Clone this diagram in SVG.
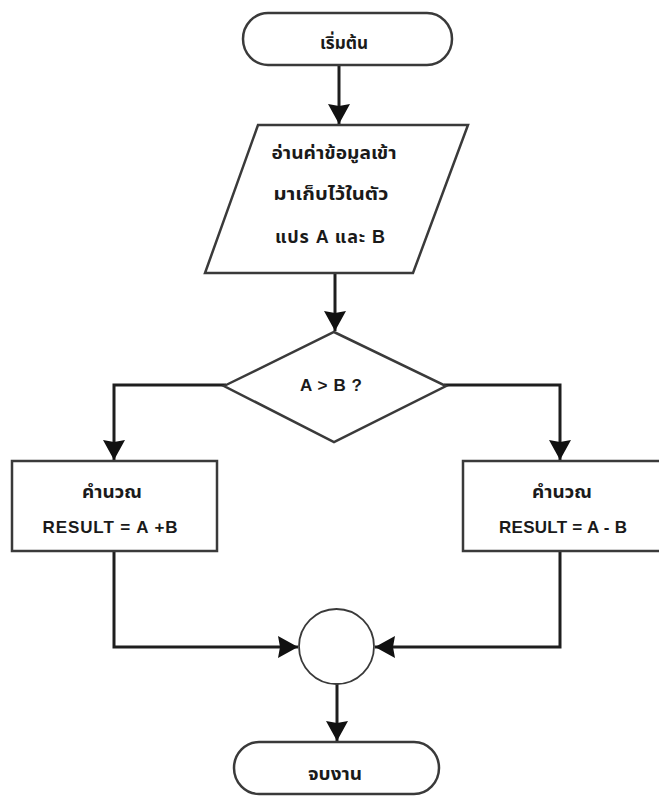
<svg xmlns="http://www.w3.org/2000/svg" width="659" height="796" viewBox="0 0 659 796">
  <style>
    .shape { fill: #ffffff; stroke: #3a3a3a; stroke-width: 2.5; }
    .thin { fill: #ffffff; stroke: #3a3a3a; stroke-width: 1.8; }
    .wire { fill: none; stroke: #1e1e1e; stroke-width: 3; }
    .label { font-family: "Liberation Sans", "Noto Sans Thai", "Noto Sans", "DejaVu Sans", sans-serif; font-size: 17px; font-weight: bold; fill: #1a1a1a; text-anchor: middle; }
    .th { font-size: 18px; }
  </style>
  <defs>
    <marker id="arrow" markerUnits="userSpaceOnUse" markerWidth="22" markerHeight="22" viewBox="0 0 22 22" refX="20" refY="11" orient="auto">
      <polygon points="0,0 20,11 0,22 2,11" fill="#111111"/>
    </marker>
  </defs>

  <rect width="659" height="796" fill="#ffffff"/>

  <!-- connectors -->
  <g id="connectors">
    <path class="wire" d="M 339 65 V 124" marker-end="url(#arrow)"/>
    <path class="wire" d="M 335 273 V 331" marker-end="url(#arrow)"/>
    <path class="wire" d="M 226 385 H 114 V 460" marker-end="url(#arrow)"/>
    <path class="wire" d="M 444 385 H 560 V 460" marker-end="url(#arrow)"/>
    <path class="wire" d="M 114 551 V 647 H 298" marker-end="url(#arrow)"/>
    <path class="wire" d="M 560 551 V 647 H 375" marker-end="url(#arrow)"/>
    <path class="wire" d="M 337 684 V 741" marker-end="url(#arrow)"/>
  </g>

  <!-- start terminator -->
  <g id="start">
    <rect class="shape" x="243" y="13" width="209" height="52" rx="25" ry="26"/>
    <text class="label th" x="344" y="49" textLength="48" lengthAdjust="spacingAndGlyphs">เริ่มต้น</text>
  </g>

  <!-- input parallelogram -->
  <g id="input">
    <polygon class="shape" points="258,125 468,125 413,273 205,273"/>
    <text class="label th" x="334" y="159" textLength="125" lengthAdjust="spacingAndGlyphs">อ่านค่าข้อมูลเข้า</text>
    <text class="label th" x="331" y="200" textLength="115" lengthAdjust="spacingAndGlyphs">มาเก็บไว้ในตัว</text>
    <text class="label th" x="330" y="243" textLength="110" lengthAdjust="spacing">แปร A และ B</text>
  </g>

  <!-- decision -->
  <g id="decision">
    <polygon class="shape" points="224,386 334,332 446,386 334,442"/>
    <text class="label" x="331" y="391" textLength="62" lengthAdjust="spacing">A &gt; B ?</text>
  </g>

  <!-- left process -->
  <g id="add">
    <rect class="shape" x="12" y="461" width="205" height="90"/>
    <text class="label th" x="112" y="498" textLength="60" lengthAdjust="spacingAndGlyphs">คำนวณ</text>
    <text class="label" x="110" y="533" textLength="135" lengthAdjust="spacing">RESULT = A +B</text>
  </g>

  <!-- right process -->
  <g id="subtract">
    <rect class="shape" x="463" y="461" width="200" height="90"/>
    <text class="label th" x="562" y="498" textLength="60" lengthAdjust="spacingAndGlyphs">คำนวณ</text>
    <text class="label" x="563" y="533" textLength="128" lengthAdjust="spacing">RESULT = A - B</text>
  </g>

  <!-- connector circle -->
  <g id="join">
    <circle class="thin" cx="336.5" cy="646.5" r="37.5"/>
  </g>

  <!-- end terminator -->
  <g id="end">
    <rect class="shape" x="234" y="742" width="205" height="52" rx="25" ry="26"/>
    <text class="label th" x="335" y="780" textLength="54" lengthAdjust="spacingAndGlyphs">จบงาน</text>
  </g>
</svg>
